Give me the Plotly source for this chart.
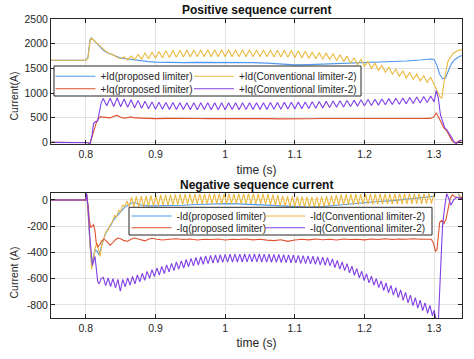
import numpy as np
import plotly.graph_objects as go

FONT = "Liberation Sans, Arial, sans-serif"
INK = "#262626"
C_BLUE, C_YEL, C_RED, C_PUR = "#4f97ee", "#eab940", "#e0502f", "#8040e6"

# ---------------- Positive sequence current ----------------
pos_id_prop_t = [0.75, 0.8, 0.803, 0.806, 0.808, 0.811, 0.815, 0.82, 0.825, 0.83, 0.835, 0.84, 0.845, 0.85, 0.855,
                 0.86, 0.87, 0.88, 0.89, 0.9, 0.92, 0.94, 0.96, 0.98, 1.0, 1.02, 1.04, 1.06, 1.08, 1.1,
                 1.12, 1.14, 1.16, 1.18, 1.2, 1.22, 1.24, 1.26, 1.28, 1.295, 1.3, 1.304, 1.308, 1.312, 1.316,
                 1.32, 1.325, 1.33, 1.335, 1.34]
pos_id_prop_v = [1665, 1665, 1720, 2080, 2120, 2075, 2010, 1930, 1870, 1820, 1790, 1760, 1735, 1710, 1700,
                 1690, 1670, 1650, 1635, 1625, 1615, 1615, 1620, 1620, 1625, 1620, 1615, 1605, 1585, 1570,
                 1575, 1585, 1600, 1615, 1625, 1630, 1635, 1650, 1670, 1690, 1680, 1560, 1380, 1290, 1300,
                 1450, 1600, 1680, 1730, 1760]

pos_id_conv_head_t = [0.75, 0.8, 0.803, 0.806, 0.808, 0.812, 0.816, 0.82, 0.825, 0.83, 0.835, 0.84, 0.845, 0.85]
pos_id_conv_head_v = [1665, 1665, 1700, 2050, 2110, 2060, 1990, 1940, 1880, 1830, 1790, 1770, 1720, 1700]
pos_id_conv_ripple_start, pos_id_conv_ripple_step = 0.855, 0.005
pos_id_conv_ripple = [1730, 1670, 1750, 1675, 1780, 1685, 1810, 1695, 1830, 1705,
                      1840, 1715, 1855, 1720, 1862, 1725, 1867, 1728, 1870, 1730,
                      1870, 1733, 1872, 1735, 1875, 1735, 1876, 1734, 1875, 1736,
                      1876, 1735, 1874, 1737, 1876, 1735, 1875, 1734, 1874, 1736,
                      1873, 1733, 1872, 1731, 1868, 1728, 1864, 1724, 1860, 1720,
                      1855, 1712, 1845, 1702, 1833, 1695, 1820, 1685, 1808, 1680,
                      1795, 1660, 1773, 1636, 1747, 1608, 1715, 1573, 1680, 1540,
                      1645, 1500, 1604, 1460, 1563, 1420, 1522, 1380, 1482, 1342,
                      1446, 1308, 1412, 1278, 1382, 1246, 1350, 1214, 1318, 1180]
pos_id_conv_tail_t = [1.304, 1.308, 1.311, 1.315, 1.32, 1.327, 1.334, 1.34]
pos_id_conv_tail_v = [1050, 930, 900, 1300, 1650, 1800, 1860, 1880]

pos_iq_prop_t = [0.75, 0.8, 0.803, 0.806, 0.809, 0.812, 0.815, 0.818, 0.821, 0.825, 0.83, 0.835, 0.84, 0.845, 0.85,
                 0.855, 0.86, 0.865, 0.87, 0.88, 0.89, 0.9, 0.92, 0.94, 0.96, 0.98, 1.0, 1.02, 1.04, 1.06,
                 1.08, 1.1, 1.12, 1.14, 1.16, 1.18, 1.2, 1.22, 1.24, 1.26, 1.28, 1.295, 1.3, 1.303, 1.306,
                 1.31, 1.314, 1.318, 1.322, 1.326, 1.33, 1.335, 1.34]
pos_iq_prop_v = [0, 0, -5, -30, 100, 260, 400, 480, 520, 510, 500, 495, 530, 545, 510,
                 490, 500, 515, 495, 485, 490, 480, 485, 478, 482, 480, 483, 478, 482, 480,
                 476, 470, 478, 482, 480, 484, 480, 483, 485, 482, 484, 485, 520, 600, 520,
                 400, 290, 230, 120, 30, -10, 10, 40]

pos_iq_conv_head_t = [0.75, 0.8, 0.803, 0.806, 0.809, 0.811, 0.814, 0.817, 0.82, 0.822]
pos_iq_conv_head_v = [0, 0, -10, -30, 150, 380, 420, 430, 620, 800]
pos_iq_conv_ripple_start, pos_iq_conv_ripple_step = 0.825, 0.005
pos_iq_conv_ripple = [890, 740, 895, 725, 900, 720, 880, 710, 865, 700,
                      850, 690, 835, 680, 820, 672, 812, 668, 808, 665,
                      805, 664, 803, 663, 802, 662, 800, 662, 800, 663,
                      801, 662, 800, 661, 800, 662, 801, 663, 800, 662,
                      801, 663, 802, 664, 803, 665, 804, 667, 806, 670,
                      808, 672, 810, 675, 812, 678, 815, 682, 818, 686,
                      822, 692, 826, 698, 830, 704, 836, 710, 842, 718,
                      848, 726, 855, 734, 862, 742, 868, 748, 874, 754,
                      880, 760, 886, 766, 893, 773, 900, 780, 908, 788,
                      918, 797, 928, 806, 940, 820]
pos_iq_conv_tail_t = [1.303, 1.306, 1.309, 1.312, 1.315, 1.318, 1.321, 1.325, 1.329, 1.332, 1.335, 1.338, 1.34]
pos_iq_conv_tail_v = [1050, 900, 560, 420, 300, 260, 200, 100, 0, -30, 20, 40, 30]

# ---------------- Negative sequence current ----------------
neg_id_prop_t = [0.75, 0.8, 0.801, 0.803, 0.806, 0.8085, 0.811, 0.8135, 0.816, 0.819, 0.822, 0.825, 0.828, 0.832,
                 0.836, 0.84, 0.845, 0.85, 0.855, 0.86, 0.865, 0.87, 0.875, 0.88, 0.89, 0.9, 0.92, 0.94, 0.96,
                 0.98, 1.0, 1.02, 1.04, 1.06, 1.08, 1.1, 1.12, 1.14, 1.16, 1.18, 1.2, 1.22, 1.24, 1.26, 1.28,
                 1.29, 1.3, 1.302, 1.306, 1.33, 1.336, 1.34]
neg_id_prop_v = [0, 0, 50, -60, -350, -495, -430, -380, -390, -420, -360, -300, -260, -220,
                 -190, -150, -120, -90, -60, -40, -25, -20, -30, -40, -45, -45, -42, -40, -35,
                 -30, -28, -30, -35, -42, -50, -55, -55, -50, -40, -28, -20, -12, -5, 5, 15,
                 22, 28, 60, 150, 150, 30, 5]

neg_id_conv_head_t = [0.75, 0.8, 0.801, 0.803, 0.806, 0.8085, 0.811, 0.8135, 0.816, 0.8185, 0.8205, 0.823,
                      0.826, 0.829, 0.832, 0.835, 0.838, 0.841, 0.844, 0.847, 0.85, 0.853, 0.856, 0.859]
neg_id_conv_head_v = [0, 0, 70, -80, -380, -530, -450, -360, -330, -390, -430, -340,
                      -280, -240, -230, -190, -170, -120, -130, -80, -90, -40, -50, -10]
neg_id_conv_ripple_start, neg_id_conv_ripple_step = 0.862, 0.0035
neg_id_conv_ripple = [-50, 20, -52, 27, -54, 30, -52, 32, -50, 35,
                      -48, 37, -46, 38, -44, 40, -42, 41, -40, 43,
                      -38, 45, -35, 46, -33, 48, -32, 47, -32, 48,
                      -31, 47, -32, 48, -31, 49, -30, 48, -31, 49,
                      -30, 48, -30, 49, -29, 48, -30, 48, -29, 49,
                      -30, 48, -29, 48, -30, 47, -33, 44, -37, 40,
                      -41, 36, -45, 31, -49, 28, -51, 27, -52, 26,
                      -53, 25, -54, 24, -54, 24, -55, 23, -55, 25,
                      -52, 29, -48, 33, -44, 37, -40, 40, -38, 42,
                      -36, 44, -35, 45, -35, 45, -34, 46, -34, 46,
                      -33, 47, -33, 47, -32, 48, -32, 48, -31, 49,
                      -31, 49, -31, 49, -30, 50, -30, 50, -30, 50,
                      -29, 51, -28, 52, -27, 52]
neg_id_conv_tail_t = [1.302, 1.306, 1.33, 1.336, 1.34]
neg_id_conv_tail_v = [80, 150, 150, 40, 10]

neg_iq_prop_t = [0.75, 0.8, 0.801, 0.803, 0.805, 0.807, 0.809, 0.811, 0.813, 0.815, 0.817, 0.82, 0.823, 0.826,
                 0.829, 0.832, 0.835, 0.838, 0.842, 0.846, 0.85, 0.855, 0.86, 0.865, 0.87, 0.875, 0.88, 0.885,
                 0.89, 0.895, 0.9, 0.91, 0.92, 0.93, 0.94, 0.95, 0.96, 0.97, 0.98, 0.99, 1.0, 1.01, 1.02,
                 1.03, 1.04, 1.05, 1.06, 1.07, 1.08, 1.09, 1.1, 1.11, 1.12, 1.13, 1.14, 1.15, 1.16, 1.17,
                 1.18, 1.19, 1.2, 1.21, 1.22, 1.23, 1.24, 1.25, 1.26, 1.27, 1.28, 1.29, 1.296, 1.299, 1.302,
                 1.304, 1.306, 1.308, 1.311, 1.314, 1.317, 1.32, 1.323, 1.326, 1.33, 1.335, 1.34]
neg_iq_prop_v = [0, 0, 40, -30, -150, -210, -200, -190, -230, -330, -360, -340, -310, -300,
                 -310, -330, -345, -330, -305, -290, -295, -310, -315, -300, -290, -298, -308, -312,
                 -300, -292, -298, -305, -300, -296, -302, -298, -305, -300, -302, -298, -305, -300, -302,
                 -298, -304, -300, -306, -310, -303, -316, -305, -300, -304, -298, -303, -300, -305, -298,
                 -302, -300, -304, -298, -302, -296, -302, -298, -300, -296, -300, -298, -300, -330, -390,
                 -380, -290, -170, -155, -180, -150, -60, 10, 40, 25, 15, 20]

neg_iq_conv_head_t = [0.75, 0.8, 0.801, 0.803, 0.806, 0.808, 0.8095, 0.811, 0.813, 0.815, 0.817, 0.819, 0.822]
neg_iq_conv_head_v = [0, 0, 60, -50, -300, -420, -500, -470, -430, -520, -620, -640, -600]
neg_iq_conv_ripple_start, neg_iq_conv_ripple_step = 0.825, 0.0035
neg_iq_conv_ripple = [-590, -653, -595, -660, -600, -670, -605, -695, -605, -662,
                      -594, -650, -583, -640, -572, -625, -559, -612, -545, -598,
                      -532, -585, -519, -573, -507, -561, -495, -549, -483, -538,
                      -473, -528, -464, -519, -454, -509, -445, -502, -439, -496,
                      -433, -490, -427, -485, -423, -482, -420, -479, -418, -476,
                      -415, -474, -414, -474, -413, -473, -413, -473, -412, -472,
                      -413, -472, -412, -472, -412, -473, -413, -474, -414, -475,
                      -415, -476, -416, -477, -417, -478, -419, -479, -420, -480,
                      -422, -483, -424, -485, -426, -487, -429, -491, -433, -495,
                      -436, -498, -440, -503, -449, -515, -461, -527, -473, -539,
                      -485, -555, -505, -574, -524, -594, -544, -614, -563, -632,
                      -581, -650, -599, -668, -617, -690, -633, -708, -651, -726,
                      -669, -744, -686, -766, -705, -785, -725, -805, -745, -825,
                      -764, -844, -784, -864, -804, -883]
neg_iq_conv_tail_t = [1.3, 1.302, 1.304, 1.306, 1.309, 1.312, 1.315, 1.318, 1.321, 1.324, 1.328, 1.332, 1.336, 1.34]
neg_iq_conv_tail_v = [-840, -900, -950, -930, -500, -200, -60, 50, 10, -40, 0, 20, 15, 10]

x_ticks = [0.8, 0.9, 1.0, 1.1, 1.2, 1.3]
x_ticktext = ["0.8", "0.9", "1", "1.1", "1.2", "1.3"]
pos_y_ticks = [0, 500, 1000, 1500, 2000, 2500]
neg_y_ticks = [-800, -600, -400, -200, 0]

pos_names = ["+Id(proposed limiter)", "+Id(Conventional limiter-2)",
             "+Iq(proposed limiter)", "+Iq(Conventional limiter-2)"]
neg_names = ["-Id(proposed limiter)", "-Id(Conventional limiter-2)",
             "-Iq(proposed limiter)", "-Iq(Conventional limiter-2)"]


def build(head_t, head_v, r_start, r_step, r_vals, tail_t, tail_v):
    rt = r_start + r_step * np.arange(len(r_vals))
    return (np.concatenate([head_t, rt, tail_t]),
            np.concatenate([head_v, r_vals, tail_v]))


pos_id_conv_t, pos_id_conv_v = build(pos_id_conv_head_t, pos_id_conv_head_v, pos_id_conv_ripple_start,
                                     pos_id_conv_ripple_step, pos_id_conv_ripple,
                                     pos_id_conv_tail_t, pos_id_conv_tail_v)
pos_iq_conv_t, pos_iq_conv_v = build(pos_iq_conv_head_t, pos_iq_conv_head_v, pos_iq_conv_ripple_start,
                                     pos_iq_conv_ripple_step, pos_iq_conv_ripple,
                                     pos_iq_conv_tail_t, pos_iq_conv_tail_v)
neg_id_conv_t, neg_id_conv_v = build(neg_id_conv_head_t, neg_id_conv_head_v, neg_id_conv_ripple_start,
                                     neg_id_conv_ripple_step, neg_id_conv_ripple,
                                     neg_id_conv_tail_t, neg_id_conv_tail_v)
neg_iq_conv_t, neg_iq_conv_v = build(neg_iq_conv_head_t, neg_iq_conv_head_v, neg_iq_conv_ripple_start,
                                     neg_iq_conv_ripple_step, neg_iq_conv_ripple,
                                     neg_iq_conv_tail_t, neg_iq_conv_tail_v)

# geometry (the page body margin is removed below, so figure pixels == window pixels)
W, H = 474, 359
L, R, T, B = 51, 12, 19, 41
PW, PH = W - L - R, H - T - B


def px(xp):
    return (xp - L) / PW


def py(yp):
    return (H - B - yp) / PH


fig = go.Figure()
LW = 1.1

# (x, y, colour, legend id, legend left px, legend row centre px)
top_series = [(pos_id_prop_t, pos_id_prop_v, C_BLUE, "legend", 50.5, 76.3),
              (pos_id_conv_t, pos_id_conv_v, C_YEL, "legend2", 189, 76.3),
              (pos_iq_prop_t, pos_iq_prop_v, C_RED, "legend3", 50.5, 88.7),
              (pos_iq_conv_t, pos_iq_conv_v, C_PUR, "legend4", 189, 88.7)]
bot_series = [(neg_id_prop_t, neg_id_prop_v, C_BLUE, "legend5", 126.5, 216.0),
              (neg_id_conv_t, neg_id_conv_v, C_YEL, "legend6", 260, 216.0),
              (neg_iq_prop_t, neg_iq_prop_v, C_RED, "legend7", 126.5, 227.7),
              (neg_iq_conv_t, neg_iq_conv_v, C_PUR, "legend8", 260, 227.7)]

leg_common = dict(orientation="h", xanchor="left", yanchor="middle", bgcolor="rgba(0,0,0,0)",
                  borderwidth=0, font=dict(family=FONT, size=10, color=INK), itemwidth=40)
legend_layout = {}
for series, names, xa, ya in [(top_series, pos_names, "x", "y"), (bot_series, neg_names, "x2", "y2")]:
    for (t, v, c, lg, lx, ly), name in zip(series, names):
        fig.add_trace(go.Scatter(x=t, y=v, mode="lines", name=name, line=dict(color=c, width=LW),
                                 xaxis=xa, yaxis=ya, legend=lg, showlegend=True))
        legend_layout[lg] = dict(x=px(lx), y=py(ly), **leg_common)

axis_common = dict(showline=True, linecolor=INK, linewidth=1, mirror="ticks", ticks="inside", ticklen=4,
                   tickcolor=INK, showgrid=True, gridcolor="#e2e2e2", gridwidth=1, zeroline=False,
                   automargin=False, tickfont=dict(family=FONT, size=10.5, color=INK))

fig.update_layout(
    template="none",
    width=W, height=H, margin=dict(l=L, r=R, t=T, b=B, pad=0, autoexpand=False),
    paper_bgcolor="white", plot_bgcolor="white", showlegend=True,
    font=dict(family=FONT, color=INK),
    xaxis=dict(domain=[0, 1], anchor="y", range=[0.75, 1.34], tickvals=x_ticks, ticktext=x_ticktext,
               title=dict(text="time (s)", font=dict(size=12, family=FONT, color=INK), standoff=6),
               **axis_common),
    yaxis=dict(domain=[py(144.3), 1], anchor="x", range=[-40, 2500], tickvals=pos_y_ticks,
               ticktext=[str(v) for v in pos_y_ticks], **axis_common),
    xaxis2=dict(domain=[0, 1], anchor="y2", range=[0.75, 1.34], tickvals=x_ticks, ticktext=x_ticktext,
                title=dict(text="time (s)", font=dict(size=12, family=FONT, color=INK), standoff=6),
                **axis_common),
    yaxis2=dict(domain=[0, py(193.4)], anchor="x2", range=[-900, 50], tickvals=neg_y_ticks,
                ticktext=[str(v) for v in neg_y_ticks], **axis_common),
    **legend_layout,
)

# legend frames
fig.add_shape(type="rect", xref="paper", yref="paper", x0=px(54), x1=px(361), y0=py(96), y1=py(66),
              line=dict(color=INK, width=1), fillcolor="white", layer="above")
fig.add_shape(type="rect", xref="paper", yref="paper", x0=px(129), x1=px(432), y0=py(235), y1=py(207.3),
              line=dict(color=INK, width=1), fillcolor="white", layer="above")

# subplot titles
fig.add_annotation(text="<b>Positive sequence current</b>", xref="paper", yref="paper", x=0.5, y=py(10),
                   xanchor="center", yanchor="middle", showarrow=False,
                   font=dict(family=FONT, size=12, color="#111111"))
fig.add_annotation(text="<b>Negative sequence current</b>", xref="paper", yref="paper", x=0.5, y=py(185),
                   xanchor="center", yanchor="middle", showarrow=False,
                   font=dict(family=FONT, size=12, color="#111111"))

# y-axis labels (placed as in the original, slightly below the axis centre)
fig.add_annotation(text="Current(A)", xref="paper", yref="paper", x=px(13.5), y=py(96), textangle=-90,
                   xanchor="center", yanchor="middle", showarrow=False,
                   font=dict(family=FONT, size=10.5, color=INK))
fig.add_annotation(text="Current (A)", xref="paper", yref="paper", x=px(13.5), y=py(273), textangle=-90,
                   xanchor="center", yanchor="middle", showarrow=False,
                   font=dict(family=FONT, size=10.5, color=INK))

fig.write_html("out.html",
               config={"displayModeBar": False, "staticPlot": False},
               post_script="document.body.style.margin='0px';document.body.style.padding='0px';")
